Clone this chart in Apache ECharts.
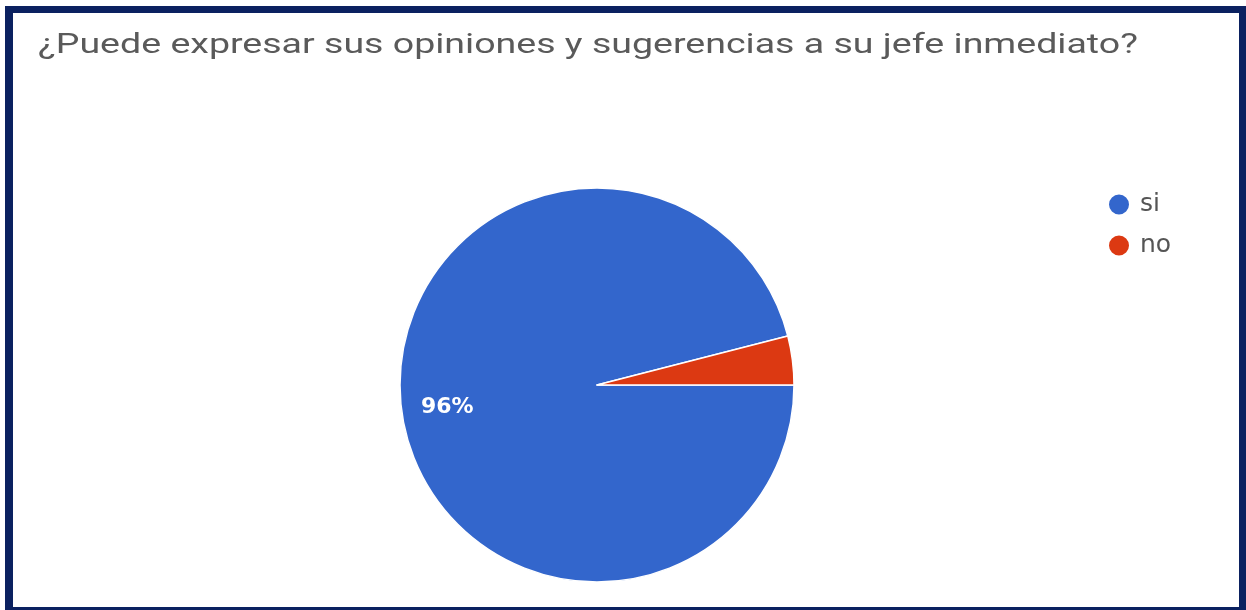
<!DOCTYPE html>
<html>
<head>
<meta charset="utf-8">
<script src="https://cdn.jsdelivr.net/npm/echarts@6/dist/echarts.min.js"></script>
<style>
  html, body { margin: 0; padding: 0; background: #ffffff; }
  #frame {
    position: absolute; left: 5px; top: 6px;
    width: 1241px; height: 611px; box-sizing: border-box;
    border-style: solid; border-color: #0b2160;
    border-width: 7px 7px 10px 8px;
    background: #ffffff;
  }
  #chart { position: absolute; left: 0; top: 0; width: 1246px; height: 610px; }
</style>
</head>
<body>
<div id="frame"></div>
<div id="chart"></div>
<script>
// Survey answers (percent of respondents)
const titleText = '¿Puede expresar sus opiniones y sugerencias a su jefe inmediato?';
const categories = ['si', 'no'];
const values = [96, 4];
const colors = ['#3366cc', '#dc3912'];

const chart = echarts.init(document.getElementById('chart'), null, { renderer: 'canvas' });

const seriesData = categories.map((name, i) => ({
  name: name,
  value: values[i],
  itemStyle: { color: colors[i] },
  // the small slice carries no percentage label
  label: { show: i === 0 }
}));

chart.setOption({
  backgroundColor: 'transparent',
  animation: false,
  // question text, set in a wide, horizontally stretched face
  graphic: [{
    type: 'text',
    x: 38,
    y: 32,
    scaleX: 1.34,
    silent: true,
    style: {
      text: titleText,
      fontFamily: 'Roboto',
      fontSize: 28,
      fill: '#5a5a5a',
      textAlign: 'left',
      textVerticalAlign: 'top'
    }
  }],
  legend: {
    orient: 'vertical',
    left: 1107,
    top: 192,
    padding: 0,
    icon: 'circle',
    itemWidth: 22,
    itemHeight: 22,
    itemGap: 16,
    selectedMode: false,
    textStyle: {
      fontFamily: 'DejaVu Sans',
      fontSize: 25,
      lineHeight: 22,
      color: '#555555',
      padding: [0, 0, 0, 5]
    },
    data: categories
  },
  series: [{
    type: 'pie',
    center: [597, 385],
    radius: [0, 197],
    startAngle: 0,
    clockwise: true,
    avoidLabelOverlap: false,
    itemStyle: { borderColor: '#ffffff', borderWidth: 1.5 },
    label: {
      position: 'inside',
      formatter: '{d}%',
      offset: [-49, 10],
      fontFamily: 'DejaVu Sans',
      fontWeight: 'bold',
      fontSize: 22,
      color: '#ffffff'
    },
    labelLine: { show: false },
    emphasis: { disabled: true },
    data: seriesData
  }]
});
</script>
</body>
</html>
